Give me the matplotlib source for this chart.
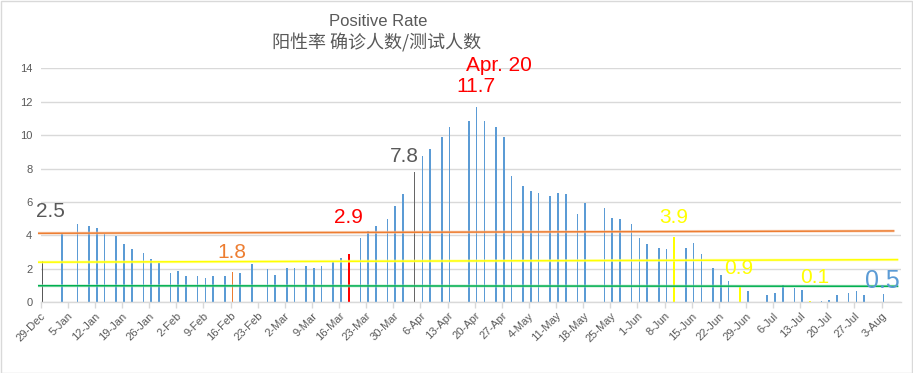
import matplotlib
matplotlib.use("Agg")
import matplotlib.pyplot as plt
from matplotlib.patches import Rectangle
import pandas as pd

# daily positive rate (%)
dates = [
    "2018-12-29", "2019-01-03", "2019-01-07", "2019-01-10", "2019-01-12", "2019-01-14",
    "2019-01-17", "2019-01-19", "2019-01-21", "2019-01-24", "2019-01-26", "2019-01-28",
    "2019-01-31", "2019-02-02", "2019-02-04", "2019-02-07", "2019-02-09", "2019-02-11",
    "2019-02-14", "2019-02-16", "2019-02-18", "2019-02-21", "2019-02-25", "2019-02-27",
    "2019-03-02", "2019-03-04", "2019-03-07", "2019-03-09", "2019-03-11", "2019-03-14",
    "2019-03-16", "2019-03-18", "2019-03-21", "2019-03-23", "2019-03-25", "2019-03-28",
    "2019-03-30", "2019-04-01", "2019-04-04", "2019-04-06", "2019-04-08", "2019-04-11",
    "2019-04-13", "2019-04-18", "2019-04-20", "2019-04-22", "2019-04-25", "2019-04-27",
    "2019-04-29", "2019-05-02", "2019-05-04", "2019-05-06", "2019-05-09", "2019-05-11",
    "2019-05-13", "2019-05-16", "2019-05-18", "2019-05-23", "2019-05-25", "2019-05-27",
    "2019-05-30", "2019-06-01", "2019-06-03", "2019-06-06", "2019-06-08", "2019-06-10",
    "2019-06-13", "2019-06-15", "2019-06-17", "2019-06-20", "2019-06-22", "2019-06-24",
    "2019-06-27", "2019-06-29", "2019-07-04", "2019-07-06", "2019-07-08", "2019-07-11",
    "2019-07-13", "2019-07-15", "2019-07-18", "2019-07-20", "2019-07-22", "2019-07-25",
    "2019-07-27", "2019-07-29", "2019-08-03",
]
rates = [
    2.5, 4.13, 4.69, 4.57, 4.45, 4.09,
    3.97, 3.49, 3.19, 2.95, 2.59, 2.35,
    1.75, 1.87, 1.57, 1.57, 1.45, 1.57,
    1.57, 1.8, 1.75, 2.29, 1.99, 1.63,
    2.05, 2.05, 2.17, 2.05, 2.17, 2.45,
    2.65, 2.9, 3.87, 4.27, 4.57, 4.99,
    5.76, 6.48, 7.8, 8.76, 9.17, 9.89,
    10.49, 10.85, 11.7, 10.85, 10.49, 9.89,
    7.56, 6.96, 6.66, 6.54, 6.36, 6.54,
    6.48, 5.28, 5.94, 5.64, 5.04, 4.98,
    4.69, 3.85, 3.49, 3.25, 3.19, 3.9,
    3.25, 3.55, 2.89, 2.05, 1.63, 1.27,
    0.9, 0.68, 0.44, 0.56, 1.04, 0.86,
    0.74, 0.1, 0.08, 0.14, 0.44, 0.56,
    0.68, 0.44, 0.5,
]

# bars that were recoloured by hand in the original
highlight = {
    "2018-12-29": "#595959",
    "2019-02-16": "#ED7D31",
    "2019-03-18": "#FF0000",
    "2019-04-04": "#666666",
    "2019-06-10": "#FFFF00",
    "2019-06-27": "#FFFF00",
    "2019-07-15": "#FFFF00",
}

# hand-drawn horizontal reference lines (left value, right value)
ref_start = [4.13, 2.40, 0.99]
ref_end = [4.27, 2.55, 0.96]
ref_colors = ["#ED7D31", "#FFFF00", "#00B050"]
ref_glow = ["#F8CBAD", "#FFFF99", "#A9DFBF"]

# callout labels: text, day offset, value height
callout_text = ["2.5", "1.8", "2.9", "7.8", "Apr. 20", "11.7", "3.9", "0.9", "0.1", "0.5"]
callout_day = [2.4, 49.4, 79.3, 93.8, 118.3, 112.3, 163.4, 180.2, 199.8, 217.1]
callout_val = [5.45, 2.95, 5.1, 8.7, 14.15, 12.9, 5.1, 2.05, 1.5, 1.28]

BLUE = "#5B9BD5"
GRAY_TXT = "#595959"
GRID = "#D9D9D9"
START = pd.Timestamp("2018-12-29")
LATIN = ["Liberation Sans", "Noto Sans CJK SC", "DejaVu Sans"]


def build_chart():
    fig = plt.figure(figsize=(9.13, 3.73), dpi=100)
    ax = fig.add_axes([40.7 / 913, 70.7 / 373, 860.3 / 913, 234 / 373])

    days = (pd.to_datetime(dates) - START).days
    colors = [highlight.get(d, BLUE) for d in dates]
    # Excel date axis puts each bar in the middle of its day slot
    ax.bar(days + 0.5, rates, width=0.42, color=colors, antialiased=False, zorder=2)

    # reference lines sit on top of the bars
    ends = [220.3, 221.3, 221.3]
    for y0, y1, x1, c, g in zip(ref_start, ref_end, ends, ref_colors, ref_glow):
        ax.plot([-0.7, x1], [y0, y1], color=g, lw=2.2, alpha=0.6,
                solid_capstyle="butt", zorder=3, clip_on=False)
        ax.plot([-0.7, x1], [y0, y1], color=c, lw=1.1,
                solid_capstyle="butt", zorder=4, clip_on=False)

    callout_colors = [GRAY_TXT, "#ED7D31", "#FF0000", GRAY_TXT, "#FF0000", "#FF0000",
                      "#FFFF00", "#FFFF00", "#FFFF00", BLUE]
    callout_sizes = [15, 15, 15, 15, 15, 15, 15, 15, 15, 18]
    for t, dx, v, c, s in zip(callout_text, callout_day, callout_val, callout_colors, callout_sizes):
        ax.text(dx, v, t, color=c, fontsize=s, ha="center", va="center",
                family=LATIN, zorder=5, clip_on=False)

    # axes styling, Excel look
    ax.set_xlim(0, 222)
    ax.set_ylim(0, 14)
    ax.set_yticks(range(0, 15, 2))
    ax.grid(axis="y", color=GRID, lw=1, zorder=0)
    ax.set_axisbelow(True)
    for side in ["top", "right", "left"]:
        ax.spines[side].set_visible(False)
    ax.spines["bottom"].set_color(GRID)
    ax.spines["bottom"].set_linewidth(1)

    ticks = pd.date_range(START, "2019-08-03", freq="7D")
    tick_days = (ticks - START).days
    ax.set_xticks(tick_days)
    ax.set_xticklabels([f"{t.day}-{t.strftime('%b')}" for t in ticks],
                       rotation=45, ha="right", rotation_mode="anchor",
                       fontsize=8, color=GRAY_TXT, family=LATIN)
    ax.tick_params(axis="x", length=4, color=GRID, width=1, pad=2)
    ax.tick_params(axis="y", length=0, pad=6, labelsize=8, labelcolor=GRAY_TXT)
    for lbl in ax.get_yticklabels():
        lbl.set_family(LATIN)

    # title block
    fig.text(378 / 913, 1 - 22 / 373, "Positive Rate", ha="center", va="center",
             fontsize=12, color=GRAY_TXT, family=LATIN)
    fig.text(377 / 913, 1 - 43 / 373, "阳性率 确诊人数/测试人数", ha="center", va="center",
             fontsize=13, color=GRAY_TXT, family=["Noto Sans CJK SC", "DejaVu Sans"])

    # chart area border
    fig.patches.append(Rectangle((0.5 / 913, 0.5 / 373), 911.5 / 913, 371.5 / 373,
                                 transform=fig.transFigure, fill=False,
                                 edgecolor=GRID, lw=1))
    return fig


if __name__ == "__main__":
    fig = build_chart()
    fig.savefig("out.png", dpi=100, facecolor="white")
    plt.close(fig)
